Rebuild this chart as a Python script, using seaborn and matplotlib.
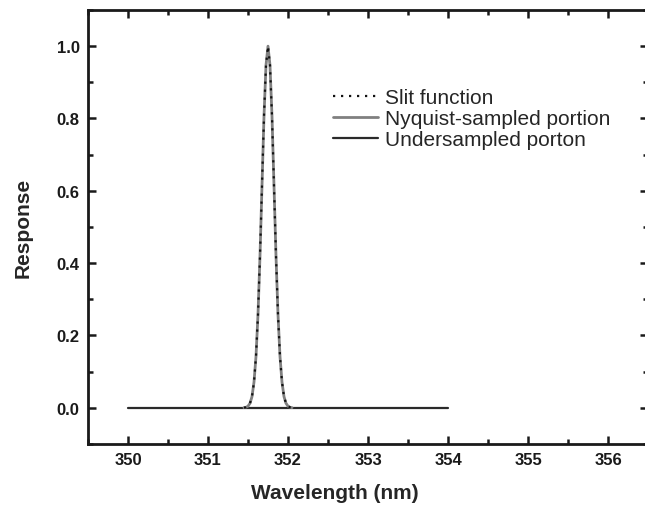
import matplotlib
matplotlib.use("Agg")
import matplotlib.pyplot as plt
import seaborn as sns
from matplotlib.ticker import MultipleLocator

# slit function (nm, normalised response)
slit_wl = [351.45, 351.475, 351.50, 351.525, 351.55, 351.575, 351.60, 351.625,
           351.65, 351.675, 351.70, 351.725, 351.75, 351.775, 351.80, 351.825,
           351.85, 351.875, 351.90, 351.925, 351.95, 351.975, 352.00, 352.025, 352.05]
slit_resp = [0.0004, 0.0014, 0.0045, 0.0125, 0.031, 0.071, 0.142, 0.258,
             0.42, 0.614, 0.806, 0.947, 1.0, 0.947, 0.806, 0.614,
             0.42, 0.258, 0.142, 0.071, 0.031, 0.0125, 0.0045, 0.0014, 0.0004]

# Nyquist-sampled portion follows the slit over the peak
nyq_wl = slit_wl
nyq_resp = slit_resp

# undersampled portion: flat baseline
under_wl = [350.0, 351.45, 352.05, 354.0]
under_resp = [0.0, 0.0, 0.0, 0.0]

sns.set_style("ticks")
plt.rcParams["font.family"] = ["Liberation Sans", "DejaVu Sans"]

fig = plt.figure(figsize=(6.45, 5.06), dpi=100)
ax = fig.add_axes([0.1364, 0.1206, 0.8683, 0.8577])

sns.lineplot(x=under_wl, y=under_resp, ax=ax, color="#2a2a2a", lw=1.6,
             sort=False, estimator=None, label="Undersampled porton", zorder=2)
sns.lineplot(x=nyq_wl, y=nyq_resp, ax=ax, color="#808080", lw=2.0,
             sort=False, estimator=None, label="Nyquist-sampled portion", zorder=3)
sns.lineplot(x=slit_wl, y=slit_resp, ax=ax, color="#111111", lw=1.6,
             linestyle=(0, (1, 2.6)), sort=False, estimator=None,
             label="Slit function", zorder=4)

ax.set_xlim(349.5, 356.5)
ax.set_ylim(-0.1, 1.1)
ax.xaxis.set_major_locator(MultipleLocator(1))
ax.xaxis.set_minor_locator(MultipleLocator(0.5))
ax.yaxis.set_major_locator(MultipleLocator(0.2))
ax.yaxis.set_minor_locator(MultipleLocator(0.1))

for side in ax.spines.values():
    side.set_linewidth(2.0)
    side.set_color("#1a1a1a")

ax.tick_params(which="both", direction="in", top=True, right=True,
               width=1.8, color="#1a1a1a")
ax.tick_params(which="major", length=6, labelsize=12, pad=6)
ax.tick_params(which="minor", length=3.5)
for lab in ax.get_xticklabels() + ax.get_yticklabels():
    lab.set_fontweight("bold")
    lab.set_color("#1a1a1a")

ax.set_xlabel("Wavelength (nm)", fontsize=15, fontweight="bold")
ax.set_ylabel("Response", fontsize=15, fontweight="bold")
ax.xaxis.set_label_coords(0.441, -0.089)
ax.yaxis.set_label_coords(-0.099, 0.5)

handles, labels = ax.get_legend_handles_labels()
order = [2, 1, 0]
ax.legend([handles[i] for i in order], [labels[i] for i in order],
          loc="upper left", bbox_to_anchor=(0.423, 0.839), frameon=False,
          fontsize=15, handlelength=2.15, handletextpad=0.35,
          labelspacing=0.1, borderaxespad=0)

fig.savefig("out.png", dpi=100)
